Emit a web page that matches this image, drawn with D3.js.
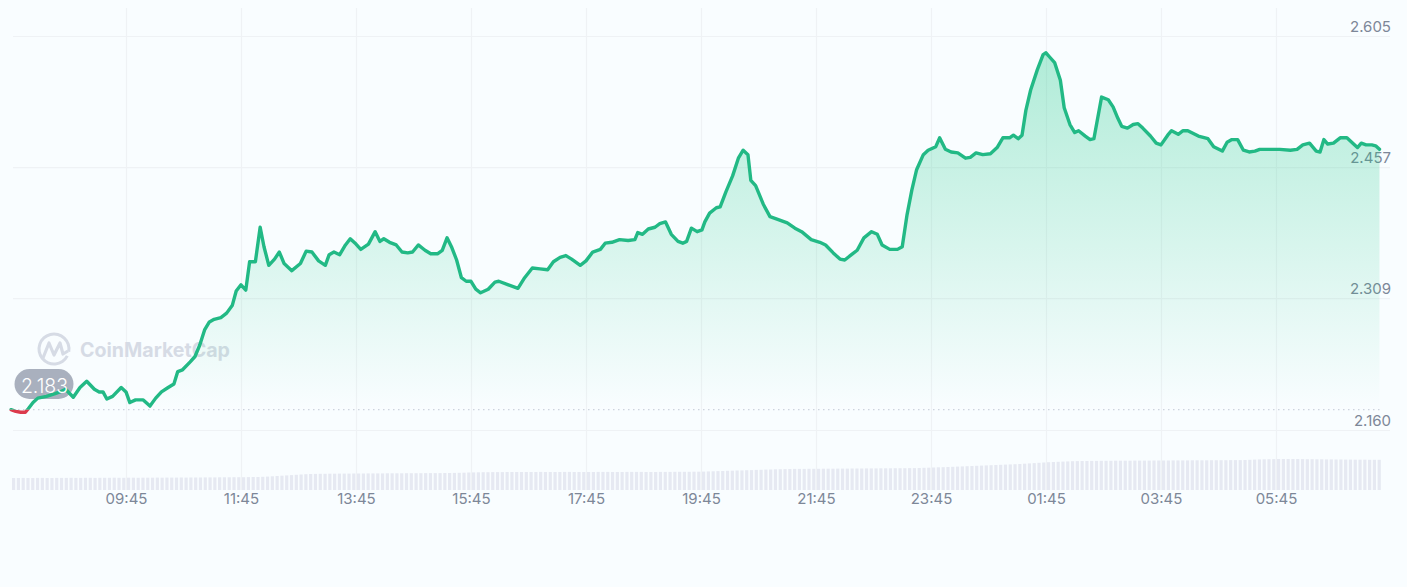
<!DOCTYPE html>
<html>
<head>
<meta charset="utf-8">
<title>Price chart</title>
<script src="https://cdn.jsdelivr.net/npm/d3@7"></script>
<style>
  html, body { margin: 0; padding: 0; background: #f9fdff; }
  svg { display: block; font-family: Inter, "Open Sans", sans-serif; }
</style>
</head>
<body>
<div id="chart"></div>
<script>
// minutes since 07:45, one entry per price below
const minutes = [
  0, 5, 10, 15, 18, 23, 28, 37, 46, 51,
  57, 65, 72, 79, 87, 92, 96, 100, 106, 115,
  120, 124, 130, 138, 145, 151, 157, 164, 170, 174,
  179, 187, 192, 197, 202, 207, 212, 219, 225, 231,
  235, 240, 245, 249, 255, 260, 264, 269, 275, 280,
  285, 293, 302, 308, 314, 321, 328, 332, 337, 343,
  349, 354, 360, 365, 373, 380, 385, 389, 395, 402,
  408, 414, 419, 425, 432, 438, 445, 450, 455, 460,
  465, 470, 475, 480, 485, 490, 498, 505, 509, 519,
  529, 536, 544, 552, 560, 566, 573, 579, 585, 594,
  600, 607, 615, 620, 627, 635, 644, 651, 654, 659,
  665, 672, 677, 683, 689, 696, 701, 705, 710, 716,
  721, 724, 729, 736, 740, 746, 753, 759, 764, 769,
  772, 777, 785, 792, 800, 810, 818, 825, 835, 844,
  850, 858, 865, 870, 877, 883, 890, 898, 904, 909,
  917, 925, 930, 935, 940, 945, 952, 957, 965, 969,
  975, 981, 988, 996, 1001, 1007, 1014, 1022, 1029, 1035,
  1042, 1046, 1051, 1055, 1059, 1064, 1071, 1077, 1080, 1084,
  1089, 1095, 1099, 1105, 1110, 1114, 1121, 1126, 1130, 1138,
  1145, 1150, 1155, 1159, 1165, 1171, 1176, 1181, 1189, 1195,
  1200, 1207, 1211, 1218, 1223, 1228, 1239, 1249, 1255, 1264,
  1269, 1274, 1280, 1286, 1292, 1298, 1303, 1314, 1324, 1335,
  1342, 1348, 1355, 1362, 1366, 1370, 1374, 1380, 1387, 1394,
  1401, 1405, 1409, 1414, 1420, 1424, 1428
];

const prices = [
  2.183, 2.181, 2.180, 2.180, 2.184, 2.191, 2.196, 2.198, 2.201, 2.203,
  2.206, 2.197, 2.208, 2.215, 2.206, 2.203, 2.203, 2.195, 2.198, 2.208,
  2.203, 2.191, 2.194, 2.194, 2.187, 2.196, 2.203, 2.208, 2.212, 2.226,
  2.228, 2.237, 2.243, 2.256, 2.273, 2.282, 2.285, 2.287, 2.292, 2.301,
  2.317, 2.324, 2.318, 2.350, 2.350, 2.389, 2.367, 2.346, 2.353, 2.361,
  2.348, 2.340, 2.348, 2.362, 2.361, 2.351, 2.346, 2.358, 2.361, 2.358,
  2.369, 2.376, 2.370, 2.364, 2.370, 2.384, 2.373, 2.376, 2.372, 2.369,
  2.361, 2.360, 2.361, 2.369, 2.363, 2.359, 2.359, 2.363, 2.377, 2.366,
  2.352, 2.332, 2.328, 2.328, 2.319, 2.315, 2.319, 2.327, 2.328, 2.324,
  2.320, 2.332, 2.343, 2.342, 2.341, 2.350, 2.355, 2.357, 2.353, 2.346,
  2.351, 2.361, 2.364, 2.371, 2.372, 2.375, 2.374, 2.375, 2.383, 2.381,
  2.387, 2.389, 2.393, 2.395, 2.381, 2.373, 2.371, 2.373, 2.388, 2.384,
  2.386, 2.395, 2.405, 2.411, 2.412, 2.429, 2.447, 2.467, 2.476, 2.471,
  2.442, 2.436, 2.415, 2.401, 2.398, 2.394, 2.388, 2.384, 2.375, 2.372,
  2.369, 2.360, 2.353, 2.352, 2.358, 2.363, 2.377, 2.384, 2.381, 2.369,
  2.364, 2.364, 2.367, 2.403, 2.431, 2.454, 2.471, 2.476, 2.480, 2.490,
  2.477, 2.474, 2.473, 2.467, 2.468, 2.473, 2.471, 2.472, 2.479, 2.490,
  2.490, 2.493, 2.489, 2.493, 2.521, 2.544, 2.567, 2.584, 2.586, 2.581,
  2.575, 2.555, 2.524, 2.505, 2.496, 2.498, 2.492, 2.488, 2.489, 2.536,
  2.533, 2.525, 2.512, 2.503, 2.501, 2.505, 2.506, 2.501, 2.492, 2.484,
  2.482, 2.493, 2.498, 2.494, 2.498, 2.498, 2.492, 2.489, 2.480, 2.475,
  2.485, 2.488, 2.488, 2.476, 2.474, 2.475, 2.477, 2.477, 2.477, 2.476,
  2.477, 2.482, 2.484, 2.475, 2.474, 2.488, 2.483, 2.484, 2.490, 2.490,
  2.483, 2.479, 2.484, 2.482, 2.482, 2.481, 2.477
];

// one volume bar every 5 minutes
const volumes = [
  12.0, 12.0, 12.1, 12.0, 12.0, 12.1, 12.1, 12.0, 12.0, 12.1, 12.1, 12.1,
  12.2, 12.1, 12.1, 12.2, 12.2, 12.1, 12.2, 12.2, 12.2, 12.3, 12.2, 12.2,
  12.3, 12.3, 12.2, 12.3, 12.3, 12.3, 12.4, 12.3, 12.4, 12.4, 12.4, 12.5,
  12.4, 12.5, 12.5, 12.5, 12.6, 12.6, 12.6, 12.7, 12.7, 12.7, 12.8, 12.8,
  12.8, 12.9, 13.0, 13.0, 13.2, 13.4, 13.7, 14.0, 14.3, 14.6, 14.9, 15.2,
  15.5, 15.8, 16.0, 16.1, 16.2, 16.2, 16.3, 16.3, 16.4, 16.4, 16.4, 16.5,
  16.5, 16.5, 16.6, 16.6, 16.6, 16.6, 16.7, 16.7, 16.7, 16.7, 16.8, 16.8,
  16.8, 16.8, 16.9, 16.9, 16.9, 16.9, 17.0, 17.0, 17.1, 17.2, 17.3, 17.5,
  17.6, 17.7, 17.8, 17.8, 17.9, 17.9, 17.9, 18.0, 18.0, 18.0, 18.0, 18.0,
  18.0, 18.0, 18.1, 18.0, 18.0, 18.0, 18.0, 18.1, 18.1, 18.0, 18.0, 18.0,
  18.0, 18.0, 18.1, 18.1, 18.1, 18.0, 18.0, 18.0, 18.1, 18.1, 18.1, 18.1,
  18.0, 18.0, 18.0, 18.1, 18.1, 18.1, 18.2, 18.2, 18.2, 18.2, 18.3, 18.3,
  18.4, 18.6, 18.7, 18.9, 19.0, 19.2, 19.3, 19.5, 19.6, 19.8, 19.9, 20.1,
  20.2, 20.4, 20.5, 20.7, 20.8, 20.9, 21.0, 21.1, 21.1, 21.1, 21.2, 21.2,
  21.2, 21.3, 21.3, 21.3, 21.4, 21.4, 21.4, 21.5, 21.5, 21.5, 21.6, 21.6,
  21.6, 21.7, 21.7, 21.7, 21.8, 21.8, 21.8, 21.9, 21.9, 22.0, 22.2, 22.3,
  22.5, 22.7, 22.8, 23.0, 23.2, 23.4, 23.6, 23.8, 24.0, 24.2, 24.4, 24.6,
  24.8, 25.0, 25.2, 25.4, 25.6, 25.8, 26.0, 26.3, 26.6, 26.9, 27.2, 27.5,
  27.8, 28.0, 28.2, 28.4, 28.6, 28.8, 28.9, 29.0, 29.0, 29.1, 29.1, 29.2,
  29.2, 29.2, 29.3, 29.3, 29.3, 29.3, 29.4, 29.4, 29.4, 29.4, 29.5, 29.5,
  29.5, 29.5, 29.6, 29.6, 29.6, 29.6, 29.7, 29.7, 29.7, 29.7, 29.8, 29.8,
  29.8, 29.8, 29.9, 29.9, 29.9, 30.0, 30.2, 30.4, 30.6, 30.7, 30.8, 30.9,
  31.0, 31.0, 31.0, 31.0, 31.0, 30.9, 30.8, 30.8, 30.7, 30.7, 30.6, 30.6,
  30.5, 30.5, 30.4, 30.4, 30.3, 30.3, 30.3, 30.2, 30.2, 30.2
];

const timeTicks = [120, 240, 360, 480, 600, 720, 840, 960, 1080, 1200, 1320];
const timeLabels = ["09:45", "11:45", "13:45", "15:45", "17:45", "19:45", "21:45", "23:45", "01:45", "03:45", "05:45"];
const priceTicks = [2.160, 2.309, 2.457, 2.605];
const baseline = 2.183;

const width = 1407, height = 587;
const gridColor = "#eff2f5", textColor = "#7d8798";
const green = "#22b985", red = "#dc3a4c";

const x = d3.scaleLinear().domain([0, 1430]).range([11, 1381.4]);
const y = d3.scaleLinear().domain([2.160, 2.605]).range([430, 36]);
const yVol = d3.scaleLinear().domain([0, 40]).range([490, 450]);

const series = minutes.map((m, i) => ({ m, p: prices[i] }));

const svg = d3.select("#chart").append("svg")
  .attr("width", width)
  .attr("height", height);

const defs = svg.append("defs");

const grad = defs.append("linearGradient")
  .attr("id", "areaFill")
  .attr("gradientUnits", "userSpaceOnUse")
  .attr("x1", 0).attr("x2", 0)
  .attr("y1", y(2.586)).attr("y2", y(baseline));
grad.append("stop").attr("offset", 0).attr("stop-color", "#16c784").attr("stop-opacity", 0.32);
grad.append("stop").attr("offset", 1).attr("stop-color", "#16c784").attr("stop-opacity", 0);

// price line changes colour where it crosses the baseline
defs.append("clipPath").attr("id", "aboveBase").append("rect")
  .attr("x", 0).attr("y", 0).attr("width", width).attr("height", y(baseline));
defs.append("clipPath").attr("id", "belowBase").append("rect")
  .attr("x", 0).attr("y", y(baseline)).attr("width", width).attr("height", height - y(baseline));

// grid
const yAxis = d3.axisRight(y)
  .tickValues(priceTicks)
  .tickSize(1377)
  .tickFormat(d3.format(".3f"));
const gy = svg.append("g").attr("transform", "translate(13,0)").call(yAxis);
gy.select(".domain").remove();
gy.selectAll("line").attr("stroke", gridColor).attr("stroke-width", 1.2);
gy.selectAll("text")
  .attr("x", 1378)
  .attr("dy", "-4.5px")
  .attr("text-anchor", "end")
  .attr("fill", textColor)
  .style("font-size", "15px")
  .style("font-family", "Inter, sans-serif");

const xAxis = d3.axisBottom(x)
  .tickValues(timeTicks)
  .tickSize(482)
  .tickFormat((d, i) => timeLabels[i]);
const gx = svg.append("g").attr("transform", "translate(0,8)").call(xAxis);
gx.select(".domain").remove();
gx.selectAll("line").attr("stroke", gridColor).attr("stroke-width", 1.2);
gx.selectAll("text")
  .attr("y", 491)
  .attr("dy", "0.35em")
  .attr("fill", textColor)
  .style("font-size", "15px")
  .style("font-family", "Inter, sans-serif");

// watermark
const mark = svg.append("g").attr("fill", "#d6dbe5");
mark.append("path")
  .attr("transform", "translate(54,349)")
  .attr("d", d3.arc()({ innerRadius: 13.5, outerRadius: 16.5, startAngle: 2.05, endAngle: 2 * Math.PI + 1.75 }));
mark.append("path")
  .attr("d", d3.line()([[43, 358], [49, 343], [54, 355], [60, 343], [63, 354], [68, 351]]))
  .attr("fill", "none")
  .attr("stroke", "#d6dbe5")
  .attr("stroke-width", 3.2)
  .attr("stroke-linejoin", "round");
mark.append("text")
  .attr("x", 80).attr("y", 357)
  .style("font-size", "19.6px")
  .style("font-weight", 700)
  .text("CoinMarketCap");

// volume
svg.append("g").selectAll("rect")
  .data(volumes)
  .join("rect")
  .attr("x", (d, i) => x(i * 5) + 1)
  .attr("y", d => yVol(d))
  .attr("width", 3.2)
  .attr("height", d => yVol(0) - yVol(d))
  .attr("fill", "#e6e9f2");

// area + baseline
const area = d3.area()
  .x(d => x(d.m))
  .y0(y(baseline))
  .y1(d => y(d.p));
svg.append("path")
  .datum(series)
  .attr("clip-path", "url(#aboveBase)")
  .attr("fill", "url(#areaFill)")
  .attr("d", area);

svg.append("line")
  .attr("x1", 13).attr("x2", x(1430))
  .attr("y1", y(baseline)).attr("y2", y(baseline))
  .attr("stroke", "#cdd3de")
  .attr("stroke-width", 1.2)
  .attr("stroke-dasharray", "1.5 3.5");

// baseline price pill sits under the line, its text on top
svg.append("rect")
  .attr("x", 14.5).attr("y", 369)
  .attr("width", 59).attr("height", 30)
  .attr("rx", 15)
  .attr("fill", "#a9b0be");

const line = d3.line()
  .x(d => x(d.m))
  .y(d => y(d.p));
[["aboveBase", green], ["belowBase", red]].forEach(([clip, color]) => {
  svg.append("path")
    .datum(series)
    .attr("clip-path", `url(#${clip})`)
    .attr("fill", "none")
    .attr("stroke", color)
    .attr("stroke-width", 3.4)
    .attr("stroke-linejoin", "round")
    .attr("stroke-linecap", "round")
    .attr("d", line);
});

svg.append("text")
  .attr("x", 44.5).attr("y", 385.5)
  .attr("dy", "0.36em")
  .attr("text-anchor", "middle")
  .attr("fill", "#fff")
  .style("font-size", "19.5px")
  .style("font-weight", 300)
  .text(d3.format(".3f")(baseline));
</script>
</body>
</html>
